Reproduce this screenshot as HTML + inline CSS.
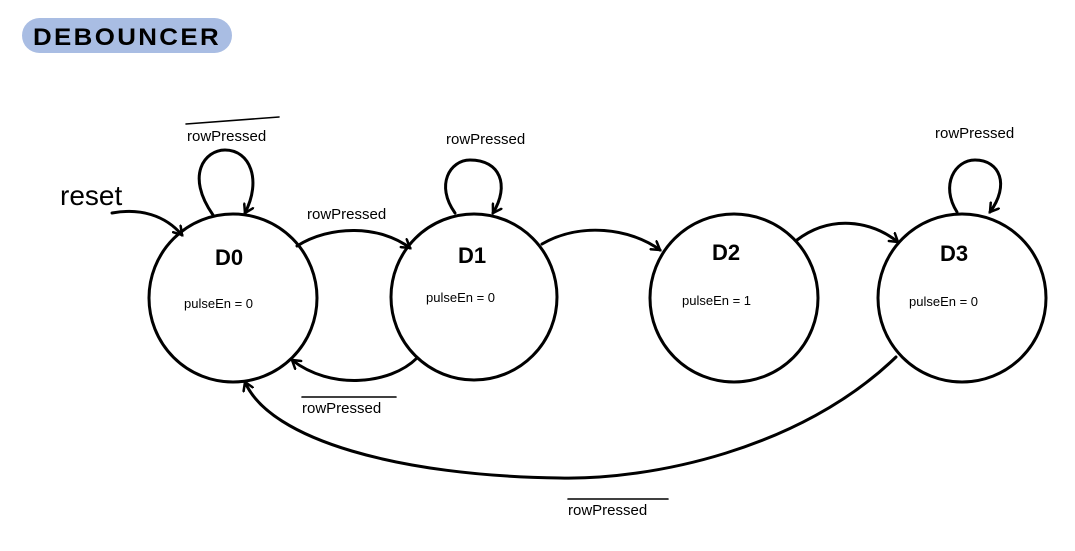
<!DOCTYPE html>
<html><head><meta charset="utf-8"><style>
html,body{margin:0;padding:0;background:#fff;}
svg{display:block}
text{font-family:"Liberation Sans",sans-serif;fill:#000}
</style></head><body>
<svg width="1075" height="551" viewBox="0 0 1075 551" xmlns="http://www.w3.org/2000/svg">
<defs><marker id="a" markerWidth="12" markerHeight="12" refX="9" refY="6" orient="auto" markerUnits="userSpaceOnUse"><path d="M1,1 L9,6 L1,11" fill="none" stroke="#000" stroke-width="2.5" stroke-linecap="round"/></marker></defs>
<rect x="22" y="18" width="210" height="35" rx="17.5" fill="#a9bde3"/>
<text x="33" y="45" font-size="24" letter-spacing="2.2" font-weight="bold" textLength="188" lengthAdjust="spacingAndGlyphs">DEBOUNCER</text>
<g fill="none" stroke="#000" stroke-width="3" stroke-linecap="round">
<circle cx="233" cy="298" r="84"/>
<circle cx="474" cy="297" r="83"/>
<circle cx="734" cy="298" r="84"/>
<circle cx="962" cy="298" r="84"/>
<path d="M213,215 C185,175 205,150 225,150 C250,150 262,180 245,213" marker-end="url(#a)"/>
<path d="M455,213 C435,185 450,160 470,160 C500,160 510,185 493,213" marker-end="url(#a)"/>
<path d="M957,212 C940,185 955,160 975,160 C1000,160 1010,185 990,212" marker-end="url(#a)"/>
<path d="M112,213 C140,208 165,215 182,235" marker-end="url(#a)"/>
<path d="M297,246 C330,225 380,225 410,248" marker-end="url(#a)"/>
<path d="M417,358 C390,385 330,390 292,360" marker-end="url(#a)"/>
<path d="M542,244 C580,222 630,228 660,250" marker-end="url(#a)"/>
<path d="M797,240 C830,215 870,220 898,242" marker-end="url(#a)"/>
<path d="M896,357 C800,450 650,480 560,478 C400,476 270,440 245,382" marker-end="url(#a)"/>
</g>
<g fill="none" stroke="#000" stroke-width="1.6" stroke-linecap="round">
<path d="M186,124 L279,117"/>
<path d="M302,397 L396,397"/>
<path d="M568,499 L668,499"/>
</g>
<text x="60" y="205" font-size="28">reset</text>
<g font-size="15">
<text x="187" y="141">rowPressed</text>
<text x="446" y="144">rowPressed</text>
<text x="935" y="138">rowPressed</text>
<text x="307" y="219">rowPressed</text>
<text x="302" y="413">rowPressed</text>
<text x="568" y="515">rowPressed</text>
</g>
<g font-size="22" font-weight="bold">
<text x="215" y="265">D0</text>
<text x="458" y="263">D1</text>
<text x="712" y="260">D2</text>
<text x="940" y="261">D3</text>
</g>
<g font-size="13">
<text x="184" y="308">pulseEn = 0</text>
<text x="426" y="302">pulseEn = 0</text>
<text x="682" y="305">pulseEn = 1</text>
<text x="909" y="306">pulseEn = 0</text>
</g>
</svg>
</body></html>
